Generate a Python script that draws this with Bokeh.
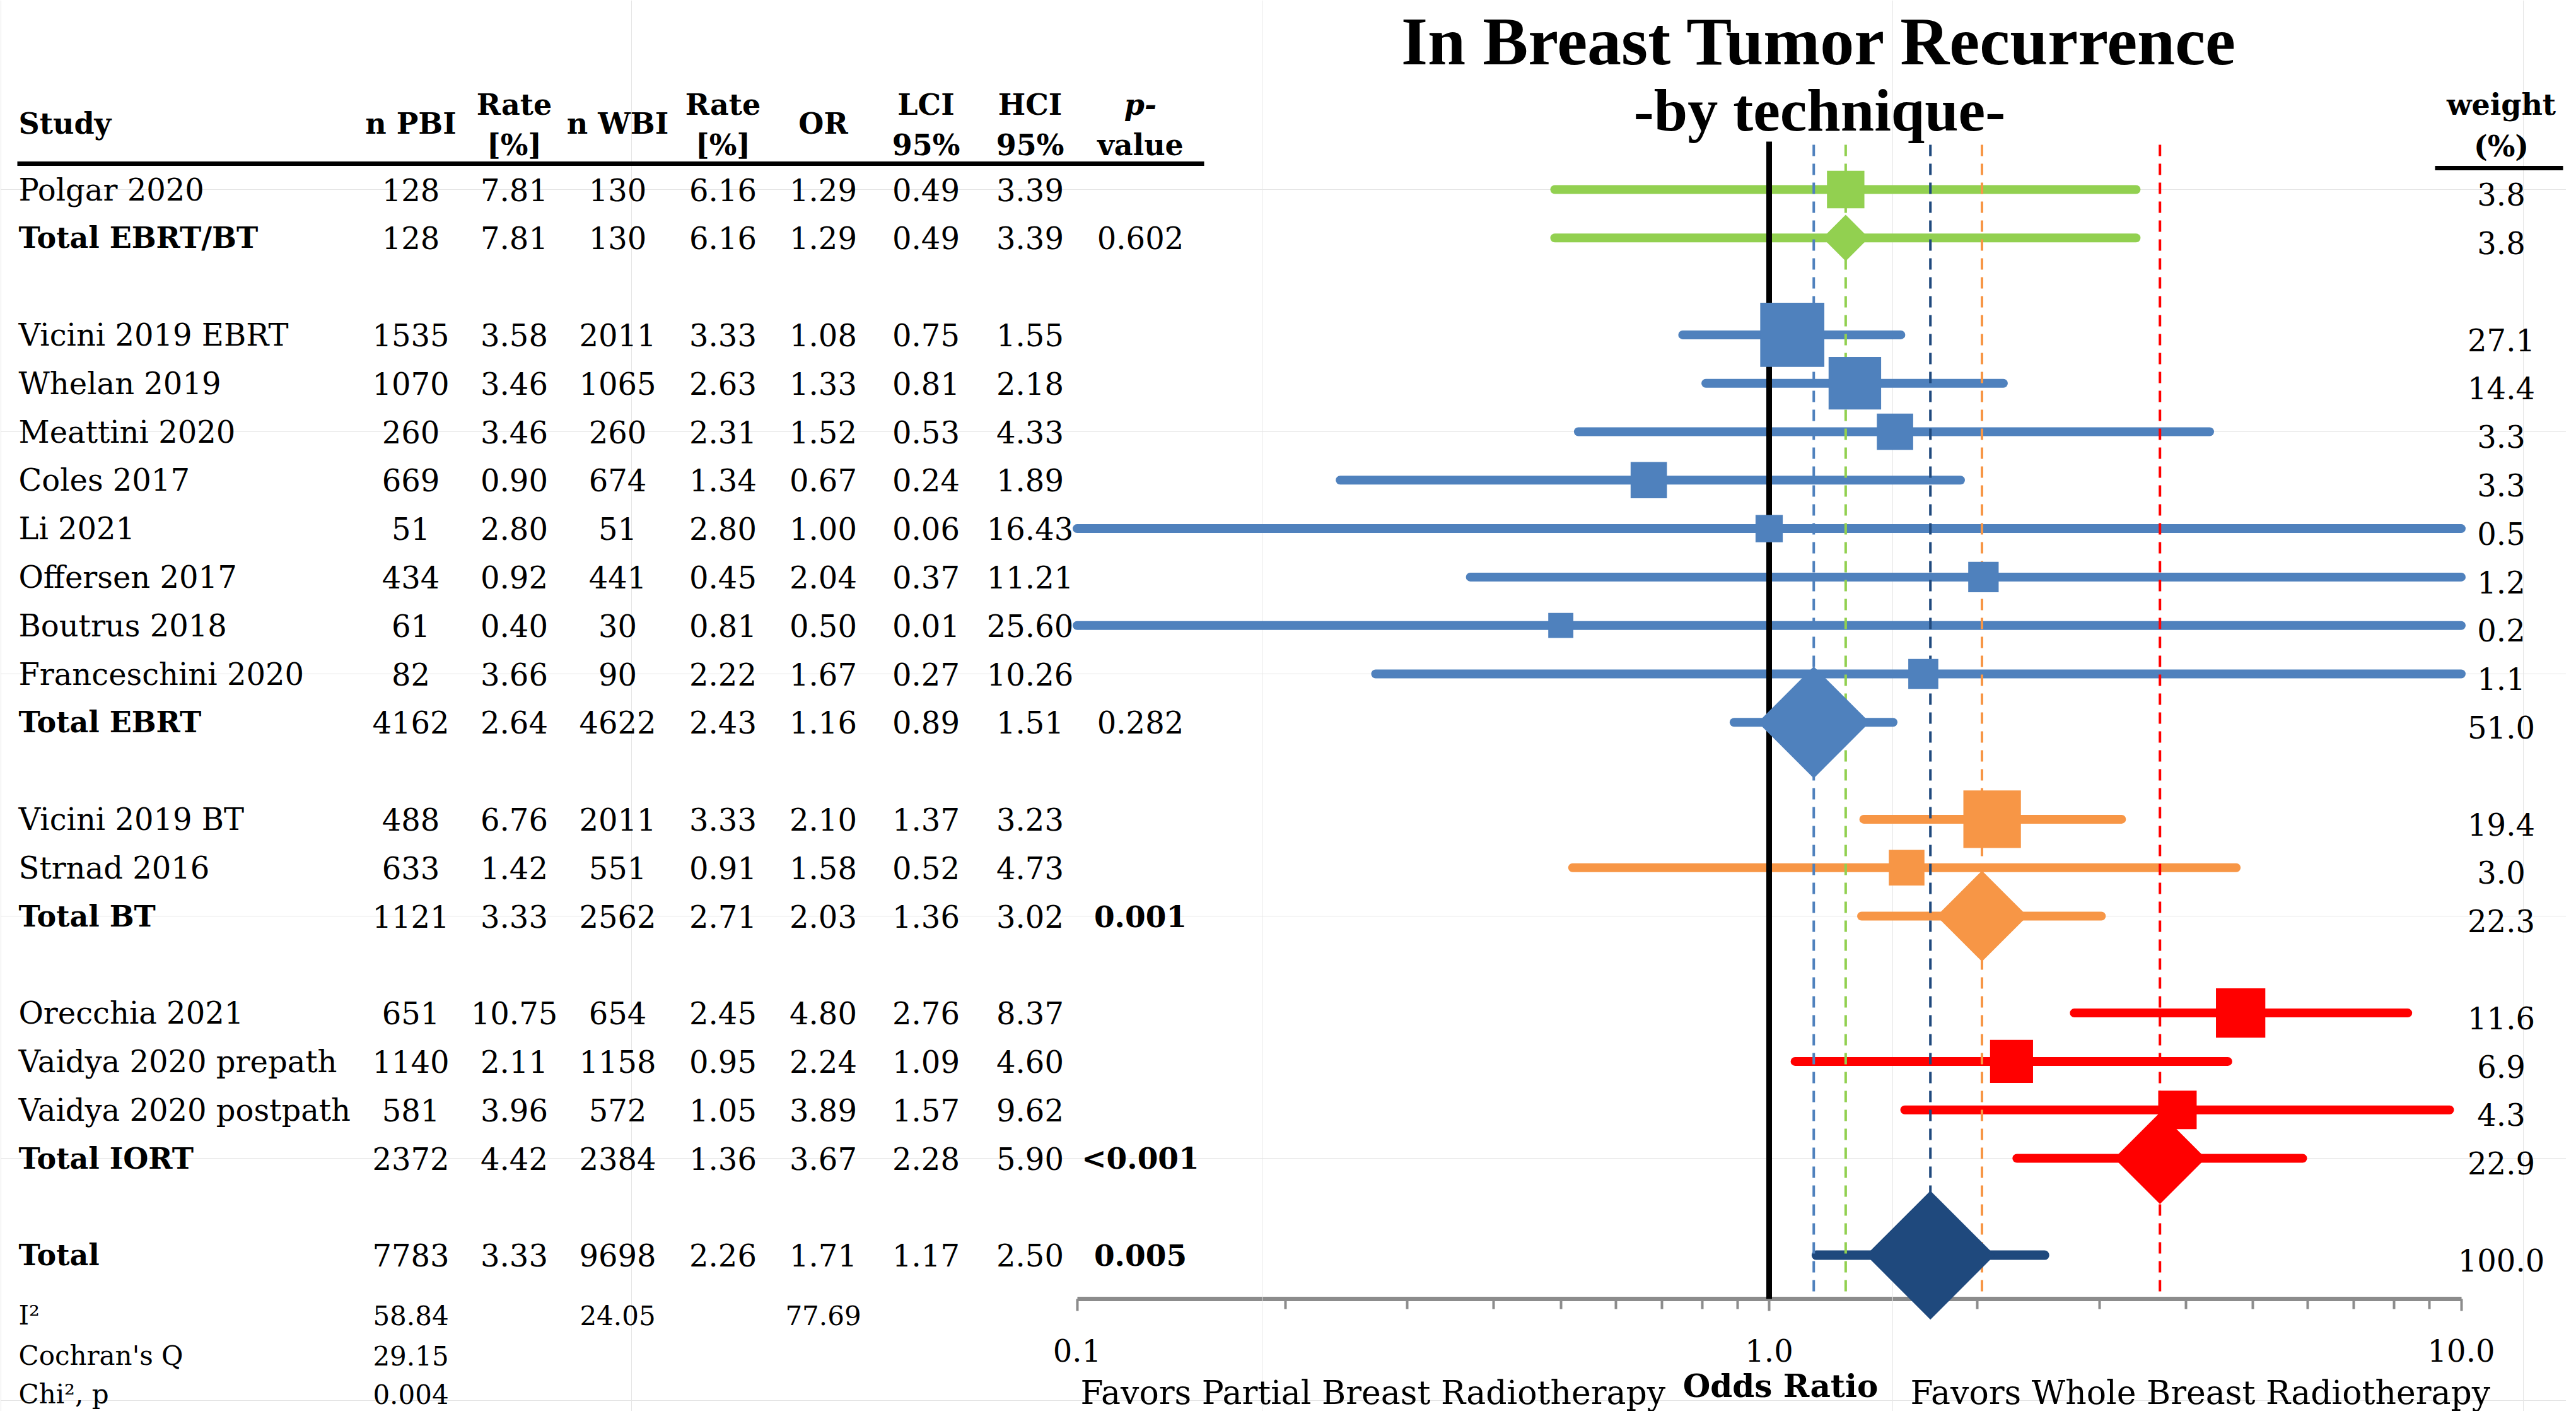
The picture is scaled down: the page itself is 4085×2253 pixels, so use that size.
import math
from bokeh.plotting import figure
from bokeh.models import Range1d, LogScale, LogAxis, FixedTicker, PrintfTickFormatter
from bokeh.core.properties import value
from bokeh.embed import file_html
from bokeh.resources import INLINE

# ---------------- data ----------------
studies = ["Polgar 2020", "Total EBRT/BT",
           "Vicini 2019 EBRT", "Whelan 2019", "Meattini 2020", "Coles 2017", "Li 2021",
           "Offersen 2017", "Boutrus 2018", "Franceschini 2020", "Total EBRT",
           "Vicini 2019 BT", "Strnad 2016", "Total BT",
           "Orecchia 2021", "Vaidya 2020 prepath", "Vaidya 2020 postpath", "Total IORT",
           "Total"]
rows = [0, 1, 3, 4, 5, 6, 7, 8, 9, 10, 11, 13, 14, 15, 17, 18, 19, 20, 22]
groups = ["EBRT/BT", "EBRT/BT",
          "EBRT", "EBRT", "EBRT", "EBRT", "EBRT", "EBRT", "EBRT", "EBRT", "EBRT",
          "BT", "BT", "BT",
          "IORT", "IORT", "IORT", "IORT",
          "ALL"]
n_pbi = [128, 128, 1535, 1070, 260, 669, 51, 434, 61, 82, 4162, 488, 633, 1121, 651, 1140, 581, 2372, 7783]
rate_pbi = [7.81, 7.81, 3.58, 3.46, 3.46, 0.90, 2.80, 0.92, 0.40, 3.66, 2.64, 6.76, 1.42, 3.33, 10.75, 2.11, 3.96, 4.42, 3.33]
n_wbi = [130, 130, 2011, 1065, 260, 674, 51, 441, 30, 90, 4622, 2011, 551, 2562, 654, 1158, 572, 2384, 9698]
rate_wbi = [6.16, 6.16, 3.33, 2.63, 2.31, 1.34, 2.80, 0.45, 0.81, 2.22, 2.43, 3.33, 0.91, 2.71, 2.45, 0.95, 1.05, 1.36, 2.26]
odds = [1.29, 1.29, 1.08, 1.33, 1.52, 0.67, 1.00, 2.04, 0.50, 1.67, 1.16, 2.10, 1.58, 2.03, 4.80, 2.24, 3.89, 3.67, 1.71]
lci = [0.49, 0.49, 0.75, 0.81, 0.53, 0.24, 0.06, 0.37, 0.01, 0.27, 0.89, 1.37, 0.52, 1.36, 2.76, 1.09, 1.57, 2.28, 1.17]
hci = [3.39, 3.39, 1.55, 2.18, 4.33, 1.89, 16.43, 11.21, 25.60, 10.26, 1.51, 3.23, 4.73, 3.02, 8.37, 4.60, 9.62, 5.90, 2.50]
pvals = ["", "0.602", "", "", "", "", "", "", "", "", "0.282", "", "", "0.001", "", "", "", "<0.001", "0.005"]
weights = [3.8, 3.8, 27.1, 14.4, 3.3, 3.3, 0.5, 1.2, 0.2, 1.1, 51.0, 19.4, 3.0, 22.3, 11.6, 6.9, 4.3, 22.9, 100.0]

footer_labels = ["I\u00b2", "Cochran's Q", "Chi\u00b2, p"]
footer_pbi = ["58.84", "29.15", "0.004"]
footer_wbi = ["24.05", "", ""]
footer_or = ["77.69", "", ""]

axis_ticks = [0.1, 1, 10]
group_colors = {"EBRT/BT": "#92D050", "EBRT": "#4F81BD", "BT": "#F79646",
                "IORT": "#FF0000", "ALL": "#1F497D"}

# ---------------- layout helpers ----------------
OFF = 9                       # small global offset correction (pixels)
Y0, DY = 299.0, 76.8          # row 0 position and row pitch (reference pixels)
def R(Y):
    return (Y - Y0) / DY
X_ONE, DEC = 2804.0, 1097.5   # pixel of OR=1 and pixels per decade

n = len(studies)
is_total = [s.startswith("Total") for s in studies]
colors = [group_colors[g] for g in groups]

W, H = 4069, 2237
p = figure(width=W, height=H,
           x_range=Range1d(8 - OFF, 4077 - OFF),
           y_range=Range1d(R(2245 - OFF), R(8 - OFF)),
           x_axis_location=None, y_axis_location=None,
           toolbar_location=None, output_backend="svg",
           min_border=0, outline_line_color=None,
           background_fill_color="white", border_fill_color="white")
p.extra_x_ranges = {"or": Range1d(10 ** ((8 - OFF - X_ONE) / DEC),
                                  10 ** ((4077 - OFF - X_ONE) / DEC))}
p.extra_x_scales = {"or": LogScale()}

FONT = value("DejaVu Serif")

# ---------------- forest plot ----------------
x0 = [max(v, axis_ticks[0]) for v in lci]
x1 = [min(v, axis_ticks[-1]) for v in hci]
lw = [15 if g == "ALL" else 14 for g in groups]
p.segment(x0=x0, y0=rows, x1=x1, y1=rows, line_color=colors, line_width=lw,
          line_cap="round", x_range_name="or")

# reference line at OR = 1
p.segment(x0=[1], x1=[1], y0=[R(223)], y1=[R(2058)], line_color="black",
          line_width=9, x_range_name="or")
# dashed lines at pooled estimates
tot = [i for i in range(n) if is_total[i]]
p.segment(x0=[odds[i] for i in tot], x1=[odds[i] for i in tot],
          y0=R(228), y1=R(2058), line_color=[colors[i] for i in tot],
          line_width=4, line_dash="18 12", x_range_name="or")

# squares
sq = [i for i in range(n) if not is_total[i]]
p.scatter(x=[odds[i] for i in sq], y=[rows[i] for i in sq], marker="square",
          size=[34 + 13 * math.sqrt(weights[i]) for i in sq],
          fill_color=[colors[i] for i in sq], line_color=None, x_range_name="or")
# diamonds
p.scatter(x=[odds[i] for i in tot], y=[rows[i] for i in tot], marker="square",
          angle=math.pi / 4,
          size=[(20 + 40 * math.log(weights[i])) / math.sqrt(2) for i in tot],
          fill_color=[colors[i] for i in tot], line_color=None, x_range_name="or")

# axis
minor = [m * 0.1 for m in range(2, 10)] + [float(m) for m in range(2, 10)]
ax = LogAxis(x_range_name="or", fixed_location=R(2058), bounds=(0.1, 10),
             ticker=FixedTicker(ticks=axis_ticks, minor_ticks=minor),
             formatter=PrintfTickFormatter(format="%.1f"))
ax.axis_line_color = "#8c8c8c"
ax.axis_line_width = 7
ax.major_tick_line_color = "#8c8c8c"
ax.minor_tick_line_color = "#8c8c8c"
ax.major_tick_line_width = 4
ax.minor_tick_line_width = 4
ax.major_tick_in = 0
ax.major_tick_out = 19
ax.minor_tick_in = 0
ax.minor_tick_out = 16
ax.major_label_text_font = "DejaVu Serif"
ax.major_label_text_font_size = "48px"
ax.major_label_text_color = "black"
ax.major_label_standoff = 44
ax.level = "underlay"
p.add_layout(ax, "below")

# ---------------- table ----------------
def txt(x, y, t, size="48px", style="normal", align="center", baseline="middle", font=FONT):
    p.text(x=x, y=y, text=t, text_font=font, text_font_size=size,
           text_font_style=style, text_align=align, text_baseline=baseline,
           text_color="black")

# headers
HS, H1, H2 = R(194), R(164), R(228)
txt([28], [HS], ["Study"], size="46px", style="bold", align="left")
txt([650, 978, 1304], [HS] * 3, ["n PBI", "n WBI", "OR"], size="46px", style="bold")
txt([814, 1145, 1467, 1632], [H1] * 4, ["Rate", "Rate", "LCI", "HCI"], size="46px", style="bold")
txt([814, 1145, 1467, 1632, 1807], [H2] * 5, ["[%]", "[%]", "95%", "95%", "value"], size="46px", style="bold")
txt([1807], [H1], ["p-"], size="46px", style="bold italic")
txt([3965], [R(164)], ["weight"], size="46px", style="bold")
txt([3965], [R(230)], ["(%)"], size="46px", style="bold")
p.segment(x0=[26, 3860], x1=[1908, 4063], y0=[R(258), R(265)], y1=[R(258), R(265)],
          line_color="black", line_width=7)

# study names
nb = [i for i in range(n) if not is_total[i]]
txt([28] * len(nb), [rows[i] for i in nb], [studies[i] for i in nb], align="left")
txt([28] * len(tot), [rows[i] for i in tot], [studies[i] for i in tot],
    size="46px", style="bold", align="left")

# numeric columns
txt([650] * n, rows, [str(v) for v in n_pbi])
txt([814] * n, rows, [f"{v:.2f}" for v in rate_pbi])
txt([978] * n, rows, [str(v) for v in n_wbi])
txt([1145] * n, rows, [f"{v:.2f}" for v in rate_wbi])
txt([1304] * n, rows, [f"{v:.2f}" for v in odds])
txt([1467] * n, rows, [f"{v:.2f}" for v in lci])
txt([1632] * n, rows, [f"{v:.2f}" for v in hci])

def significant(s):
    return s.startswith("<") or (s != "" and float(s) < 0.05)
pv = [i for i in range(n) if pvals[i] != ""]
pv_n = [i for i in pv if not significant(pvals[i])]
pv_b = [i for i in pv if significant(pvals[i])]
txt([1807] * len(pv_n), [rows[i] for i in pv_n], [pvals[i] for i in pv_n])
txt([1807] * len(pv_b), [rows[i] for i in pv_b], [pvals[i] for i in pv_b], size="47px", style="bold")

# weights
txt([3965] * n, [r + 0.1 for r in rows], [f"{w:.1f}" for w in weights])

# footer statistics
frows = [R(2084), R(2148), R(2209)]
txt([28] * 3, frows, footer_labels, size="42px", align="left")
txt([650] * 3, frows, footer_pbi, size="42px")
txt([978] * 3, frows, footer_wbi, size="42px")
txt([1304] * 3, frows, footer_or, size="42px")

# axis captions
txt([2822], [R(2196)], ["Odds Ratio"], size="50px", style="bold")
txt([1712, 3028], [R(2206)] * 2,
    ["Favors Partial Breast Radiotherapy", "Favors Whole Breast Radiotherapy"],
    size="52px", align="left")

# title
txt([2884], [R(64)], ["In Breast Tumor Recurrence"], size="108px", style="bold",
    baseline="alphabetic", font=value("Liberation Serif"))
txt([2884], [R(173)], ["-by technique-"], size="96px", style="bold",
    baseline="alphabetic", font=value("Liberation Serif"))

open("out.html", "w").write(file_html(p, INLINE))
